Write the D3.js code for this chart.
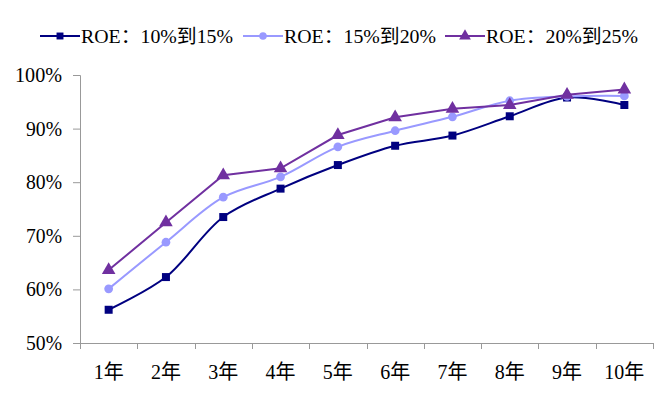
<!DOCTYPE html>
<html><head><meta charset="utf-8">
<script src="https://cdn.jsdelivr.net/npm/d3@7"></script>
<style>body{margin:0;background:#fff}svg{display:block}</style>
</head><body>
<svg id="c" width="671" height="411"></svg>
<script>
const categories = ["1年","2年","3年","4年","5年","6年","7年","8年","9年","10年"];
const seriesNames = ["ROE：10%到15%","ROE：15%到20%","ROE：20%到25%"];
const roe10to15 = [56.2, 62.3, 73.5, 78.8, 83.2, 86.8, 88.7, 92.3, 95.8, 94.4];
const roe15to20 = [60.1, 68.8, 77.2, 81.0, 86.6, 89.6, 92.2, 95.2, 96.0, 96.1];
const roe20to25 = [63.6, 72.5, 81.3, 82.6, 88.8, 92.1, 93.7, 94.4, 96.3, 97.3];
const yTicks = [50, 60, 70, 80, 90, 100];

const colors = ["#000080", "#9999FF", "#7030A0"];
const symbols = [d3.symbolSquare, d3.symbolCircle, d3.symbolTriangle];
const symSizes = [64, 60, 80];
const curves = [d3.curveCatmullRom.alpha(0.5), d3.curveCatmullRom.alpha(0.5), d3.curveLinear];
const widths = [2, 2, 2];
const allSeries = [roe10to15, roe15to20, roe20to25];

const svg = d3.select("#c");
const font = "Liberation Serif, DejaVu Serif, Noto Sans CJK SC, serif";

const x = d3.scaleBand().domain(categories).range([80, 653]).padding(0);
const y = d3.scaleLinear().domain([50, 100]).range([343, 75]);

// y axis
const ya = svg.append("g").attr("transform","translate(80,0)")
  .call(d3.axisLeft(y).tickValues(yTicks).tickSize(7).tickPadding(10).tickFormat(d => d + "%"));
ya.select(".domain").attr("stroke","#999").attr("d","M-7,75.5H0.5V343.5");
ya.selectAll(".tick line").attr("stroke","#999");
ya.selectAll(".tick text").attr("font-family",font).attr("font-size",20).attr("fill","#000").attr("dx",-1)
  .attr("textLength",d => d === 100 ? 47 : 36).attr("lengthAdjust","spacingAndGlyphs");

// x axis
const xa = svg.append("g").attr("transform","translate(0,343)");
xa.append("line").attr("x1",80).attr("x2",653.5).attr("y1",0.5).attr("y2",0.5).attr("stroke","#999");
const bounds = categories.map(c => x(c)).concat([x(categories[categories.length-1]) + x.bandwidth()]);
xa.selectAll("line.t").data(bounds).enter().append("line").attr("class","t")
  .attr("x1",d=>Math.round(d)+0.5).attr("x2",d=>Math.round(d)+0.5).attr("y1",0).attr("y2",6).attr("stroke","#999");
xa.selectAll("text").data(categories).enter().append("text")
  .attr("x",d=>x(d)+x.bandwidth()/2).attr("y",36)
  .attr("text-anchor","middle").attr("font-family",font).attr("font-size",20).attr("fill","#000")
  .text(d=>d);

// lines
allSeries.forEach((vals, i) => {
  const line = d3.line().x((d,j)=>x(categories[j])+x.bandwidth()/2).y(d=>y(d)).curve(curves[i]);
  svg.append("path").datum(vals).attr("d",line).attr("fill","none")
    .attr("stroke",colors[i]).attr("stroke-width",widths[i]);
});
allSeries.forEach((vals, i) => {
  svg.selectAll(null).data(vals).enter().append("path")
    .attr("d", d3.symbol().type(symbols[i]).size(symSizes[i]))
    .attr("transform",(d,j)=>`translate(${x(categories[j])+x.bandwidth()/2},${y(d)})`)
    .attr("fill",colors[i]);
});

// legend
const legX = [40, 243, 445];
const legTextW = 152;
seriesNames.forEach((n,i) => {
  const g = svg.append("g").attr("transform",`translate(${legX[i]},36)`);
  g.append("line").attr("x1",0).attr("x2",40).attr("y1",0).attr("y2",0).attr("stroke",colors[i]).attr("stroke-width",2);
  g.append("path").attr("d",d3.symbol().type(symbols[i]).size(symSizes[i]*0.75)).attr("transform","translate(20,0)").attr("fill",colors[i]);
  g.append("text").attr("x",41).attr("y",0).attr("dy","0.35em")
    .attr("font-family",font).attr("font-size",19).attr("fill","#000")
    .attr("textLength",legTextW).attr("lengthAdjust","spacingAndGlyphs").text(n);
});
</script>
</body></html>
